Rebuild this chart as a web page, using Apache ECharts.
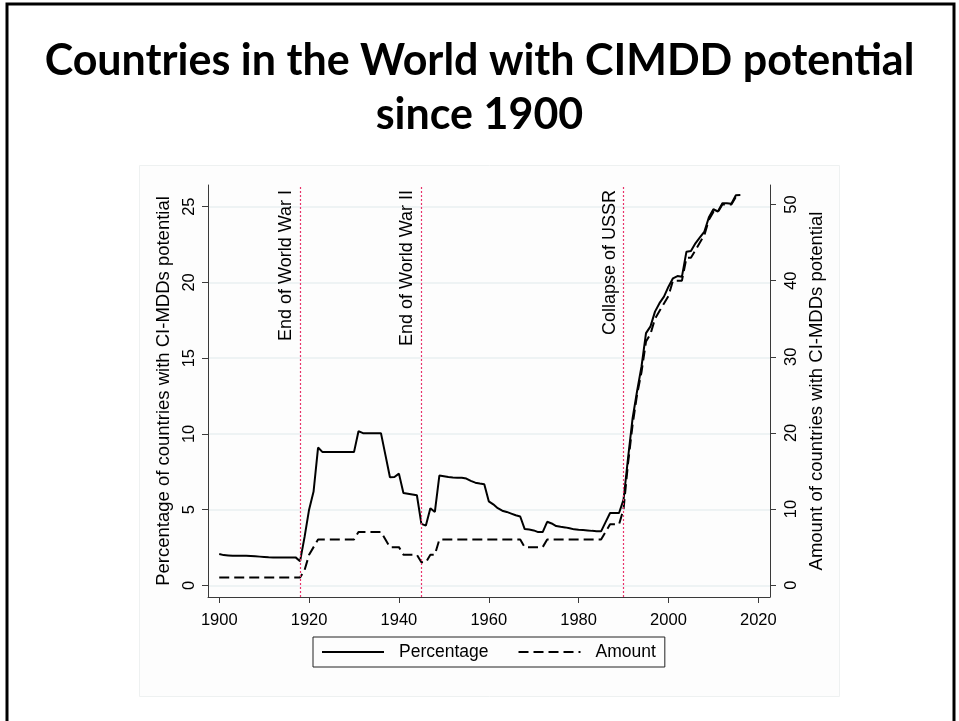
<!DOCTYPE html>
<html><head><meta charset="utf-8">
<script src="https://cdn.jsdelivr.net/npm/echarts@6/dist/echarts.min.js"></script>
<style>html,body{margin:0;padding:0;background:#fff}#c{width:959px;height:721px}</style>
</head><body><div id="c"></div>
<script>
// ---- data ----
const years = [1900,1901,1902,1903,1904,1905,1906,1907,1908,1909,1910,1911,1912,1913,1914,1915,1916,1917,1918,1919,
1920,1921,1922,1923,1924,1925,1926,1927,1928,1929,1930,1931,1932,1933,1934,1935,1936,1937,1938,1939,
1940,1941,1942,1943,1944,1945,1946,1947,1948,1949,1950,1951,1952,1953,1954,1955,1956,1957,1958,1959,
1960,1961,1962,1963,1964,1965,1966,1967,1968,1969,1970,1971,1972,1973,1974,1975,1976,1977,1978,1979,
1980,1981,1982,1983,1984,1985,1986,1987,1988,1989,1990,1991,1992,1993,1994,1995,1996,1997,1998,1999,
2000,2001,2002,2003,2004,2005,2006,2007,2008,2009,2010,2011,2012,2013,2014,2015,2016];
const percentage = [2.07,2.00,1.98,1.96,1.96,1.96,1.96,1.94,1.92,1.90,1.88,1.86,1.85,1.85,1.85,1.85,1.85,1.85,1.60,3.20,
5.00,6.20,9.10,8.80,8.80,8.80,8.80,8.80,8.80,8.80,8.80,10.18,10.05,10.05,10.05,10.05,10.05,8.60,7.14,7.16,
7.38,6.10,6.05,6.00,5.95,4.06,3.95,5.10,4.85,7.25,7.20,7.15,7.12,7.10,7.10,7.05,6.90,6.78,6.72,6.67,
5.55,5.35,5.10,4.93,4.85,4.74,4.63,4.55,3.72,3.69,3.63,3.52,3.52,4.20,4.09,3.92,3.87,3.83,3.77,3.70,
3.67,3.65,3.63,3.60,3.58,3.57,4.18,4.78,4.78,4.78,5.66,8.40,11.00,12.80,14.45,16.65,17.10,18.07,18.63,19.06,
19.72,20.27,20.42,20.38,22.03,22.07,22.58,22.97,23.35,24.30,24.83,24.68,25.23,25.23,25.20,25.75,25.77];
const amount = [1,1,1,1,1,1,1,1,1,1,1,1,1,1,1,1,1,1,1,2,
4,5,6,6,6,6,6,6,6,6,6,7,7,7,7,7,7,6,5,5,
5,4,4,4,4,3,3,4,4,6,6,6,6,6,6,6,6,6,6,6,
6,6,6,6,6,6,6,6,5,5,5,5,5,6,6,6,6,6,6,6,
6,6,6,6,6,6,7,8,8,8,10,16,21,25,28,32,33,35,36,37,
38,40,40,40,43,43,44,45,46,48,49,49,50,50,50,51,51];
const xTicks = [1900,1920,1940,1960,1980,2000,2020];
const pctTicks = [0,5,10,15,20,25];
const amtTicks = [0,10,20,30,40,50];
const eventYears = [1918,1945,1990];
const eventLabels = ['End of World War I','End of World War II','Collapse of USSR'];
const seriesNames = ['Percentage','Amount'];
const titleLines = ['Countries in the World with CIMDD potential','since 1900'];
const yTitleLeft = 'Percentage of countries with CI-MDDs potential';
const yTitleRight = 'Amount of countries with CI-MDDs potential';

// ---- chart ----
const FONT = "'Liberation Sans', Arial, sans-serif";
const chart = echarts.init(document.getElementById('c'), null, {renderer:'canvas'});
const axisLineStyle = {color:'#3a3a3a', width:1};
const eventLineStyle = {color:'#e8336b', width:1.2, type:[2,2], opacity:1};
chart.setOption({
  animation:false,
  backgroundColor:'#ffffff',
  title:{
    text: titleLines.join('\n'),
    left:'center', top:29,
    textStyle:{fontFamily:"Lato, 'Open Sans', sans-serif", fontWeight:'bold', fontSize:43, lineHeight:54, color:'#000'}
  },
  graphic:[
    {type:'rect', z:-10, shape:{x:7, y:4, width:947, height:760}, style:{fill:'none', stroke:'#000', lineWidth:3}},
    {type:'rect', z:-9, shape:{x:139.5, y:165.5, width:700, height:531}, style:{fill:'#fdfdfd', stroke:'#eef1f1', lineWidth:1}}
  ],
  grid:{left:208, right:189, top:185, bottom:124, containLabel:false, outerBoundsMode:'none'},
  legend:{
    data:seriesNames, left:313, top:637, orient:'horizontal',
    padding:[6,9,6,8], borderColor:'#222', borderWidth:1, borderRadius:0,
    itemWidth:62, itemHeight:14, itemGap:29,
    itemStyle:{color:'rgba(0,0,0,0)', borderWidth:0, opacity:0},
    textStyle:{fontFamily:FONT, fontSize:17.5, color:'#000', padding:[0,0,0,10]}
  },
  xAxis:{
    type:'value', min:1897.5, max:2022.6,
    axisLine:{show:true, onZero:false, lineStyle:axisLineStyle},
    axisTick:{show:true, inside:false, length:6, lineStyle:axisLineStyle, customValues:xTicks},
    axisLabel:{customValues:xTicks, formatter:(v)=>String(v), fontFamily:FONT, fontSize:16.5, color:'#000', margin:15},
    splitLine:{show:false}
  },
  yAxis:[
    {
      type:'value', position:'left', min:-0.765, max:26.43,
      name:yTitleLeft, nameLocation:'middle', nameRotate:90, nameGap:31,
      nameTextStyle:{fontFamily:FONT, fontSize:18.5, color:'#000'},
      axisLine:{show:true, onZero:false, lineStyle:axisLineStyle},
      axisTick:{show:true, inside:false, length:6, lineStyle:axisLineStyle, customValues:pctTicks},
      axisLabel:{customValues:pctTicks, formatter:(v)=>String(v), rotate:90, fontFamily:FONT, fontSize:16.5, color:'#000', margin:10},
      splitLine:{show:true, lineStyle:{color:'#e9eff1', width:1.5}}
    },
    {
      type:'value', position:'right', min:-1.55, max:52.56,
      name:yTitleRight, nameLocation:'middle', nameRotate:90, nameGap:29,
      nameTextStyle:{fontFamily:FONT, fontSize:18.5, color:'#000'},
      axisLine:{show:true, onZero:false, lineStyle:axisLineStyle},
      axisTick:{show:true, inside:false, length:6, lineStyle:axisLineStyle, customValues:amtTicks},
      axisLabel:{customValues:amtTicks, formatter:(v)=>String(v), rotate:90, fontFamily:FONT, fontSize:16.5, color:'#000', margin:13},
      splitLine:{show:false}
    }
  ],
  series:[
    {
      name:seriesNames[0], type:'line', yAxisIndex:0, symbol:'none', showSymbol:false,
      data: years.map((y,i)=>[y, percentage[i]]),
      lineStyle:{color:'#000', width:2, type:'solid'}, itemStyle:{color:'#000'}, z:3
    },
    {
      name:seriesNames[1], type:'line', yAxisIndex:1, symbol:'none', showSymbol:false,
      data: years.map((y,i)=>[y, amount[i]]),
      lineStyle:{color:'#000', width:2, type:[10,5]}, itemStyle:{color:'#000'}, z:2
    },
    {
      name:'events', type:'line', yAxisIndex:0, data:[], symbol:'none', silent:true, z:1,
      markLine:{
        silent:true, symbol:['none','none'], animation:false,
        lineStyle:eventLineStyle,
        emphasis:{disabled:true},
        label:{show:true, position:'insideEndTop', fontFamily:FONT, fontSize:18, color:'#000', distance:5},
        data: eventYears.map((y,i)=>({xAxis:y, lineStyle:eventLineStyle, label:{formatter:eventLabels[i]}}))
      }
    }
  ]
});
</script></body></html>
